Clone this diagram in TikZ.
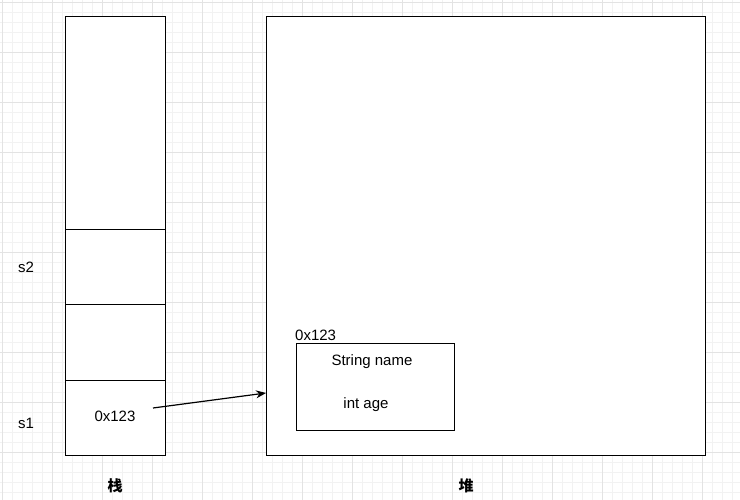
\documentclass[tikz,border=0pt]{standalone}
\usepackage{fontspec}
\setmainfont{Liberation Sans}
\newfontfamily\cjk{Noto Sans CJK SC}
\usetikzlibrary{arrows.meta}

\begin{document}
\begin{tikzpicture}[x=1pt, y=-1pt,
	minor/.style={black!5, line width=0.8pt},
	major/.style={black!11, line width=0.8pt},
	cell/.style={draw, line width=1.2pt, fill=white, inner sep=0pt, anchor=north west},
	lbl/.style={font=\fontsize{15}{17}\selectfont, inner sep=0pt},
	cn/.style={font=\cjk\bfseries\fontsize{15}{17}\selectfont, inner sep=0pt}]
	\useasboundingbox (0,0) rectangle (740,500);
	\fill[white] (0,0) rectangle (740,500);
	% background grid
	\foreach \i in {2,12,...,740} \draw[minor] (\i,0) -- (\i,500);
	\foreach \i in {2,12,...,500} \draw[minor] (0,\i) -- (740,\i);
	\foreach \i in {2,52,...,740} \draw[major] (\i,0) -- (\i,500);
	\foreach \i in {2,52,...,500} \draw[major] (0,\i) -- (740,\i);
	
	% stack
	\node[cell, minimum width=100pt, minimum height=213pt] (top) at (65,16) {};
	\node[cell, minimum width=100pt, minimum height=75pt] (cell2) at (65,229) {};
	\node[cell, minimum width=100pt, minimum height=76pt] (cell3) at (65,304) {};
	\node[cell, minimum width=100pt, minimum height=75pt] (cell1) at (65,380) {};
	
	% heap
	\node[cell, minimum width=439pt, minimum height=439pt] (heap) at (266,16) {};
	\node[cell, minimum width=158pt, minimum height=87pt] (obj) at (296,343) {};
	
	\node[lbl, anchor=west] (objaddr) at (295,335) {0x123};
	\node[lbl] (fname) at (372,362) {String name};
	\node[lbl] (fage) at (366,405) {int age};
	\node[lbl] (addr) at (115,416) {0x123};
	\node[lbl] (s1) at (26,423) {s1};
	\node[lbl] (s2) at (26,267) {s2};
	\node[cn] (stk) at (115,486) {栈};
	\node[cn] (hp) at (466,486) {堆};
	
	\coordinate (from) at (153,408);
	\coordinate (to) at (266,393);
	\draw[-{Stealth[length=10pt, width=8pt]}, line width=1.2pt] (from) -- (to);
\end{tikzpicture}
\end{document}
